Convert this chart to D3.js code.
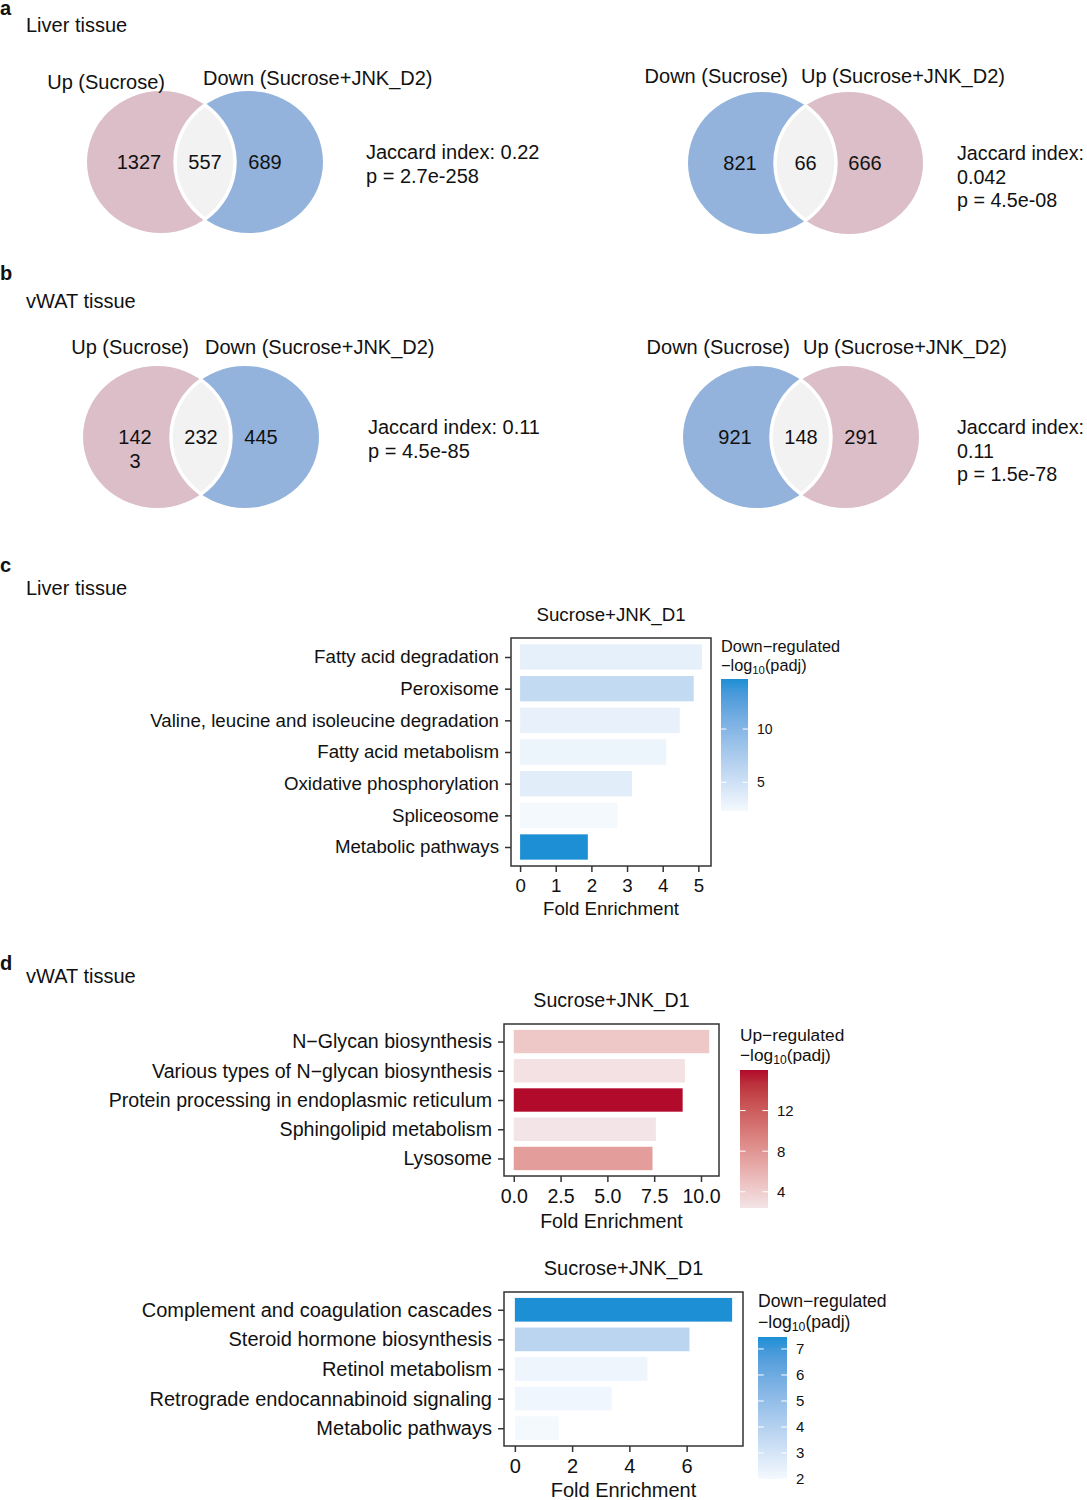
<!DOCTYPE html>
<html>
<head>
<meta charset="utf-8">
<script src="https://cdn.jsdelivr.net/npm/d3@7"></script>
<style>
  body { margin: 0; background: #fff; }
  svg { font-family: "Liberation Sans", Arial, Helvetica, sans-serif; }
</style>
</head>
<body>
<svg id="canvas" width="1087" height="1500"></svg>
<script>
// ---- Venn data (panels a, b) ----
const vennSetNames = [
    ["Up (Sucrose)", "Down (Sucrose+JNK_D2)"],
    ["Down (Sucrose)", "Up (Sucrose+JNK_D2)"],
    ["Up (Sucrose)", "Down (Sucrose+JNK_D2)"],
    ["Down (Sucrose)", "Up (Sucrose+JNK_D2)"]
];
const vennDirections = [["up", "down"], ["down", "up"], ["up", "down"], ["down", "up"]];
const vennCounts = [[1327, 557, 689], [821, 66, 666], [1423, 232, 445], [921, 148, 291]];
const vennJaccard = ["0.22", "0.042", "0.11", "0.11"];
const vennPvalues = ["2.7e-258", "4.5e-08", "4.5e-85", "1.5e-78"];

// ---- Enrichment data (panels c, d) ----
const liverCategories = ["Fatty acid degradation", "Peroxisome", "Valine, leucine and isoleucine degradation",
    "Fatty acid metabolism", "Oxidative phosphorylation", "Spliceosome", "Metabolic pathways"];
const liverFold = [5.10, 4.87, 4.48, 4.10, 3.14, 2.73, 1.90];
const liverPadj = [3.3, 5.8, 3.2, 2.9, 3.6, 2.3, 14.7];
const liverFoldTicks = [0, 1, 2, 3, 4, 5];
const liverLegendTicks = [5, 10];

const vwatUpCategories = ["N\u2212Glycan biosynthesis", "Various types of N\u2212glycan biosynthesis",
    "Protein processing in endoplasmic reticulum", "Sphingolipid metabolism", "Lysosome"];
const vwatUpFold = [10.44, 9.14, 9.02, 7.59, 7.41];
const vwatUpPadj = [4.5, 2.6, 16.0, 2.4, 7.5];
const vwatUpFoldTicks = [0, 2.5, 5, 7.5, 10];
const vwatUpLegendTicks = [4, 8, 12];

const vwatDownCategories = ["Complement and coagulation cascades", "Steroid hormone biosynthesis",
    "Retinol metabolism", "Retrograde endocannabinoid signaling", "Metabolic pathways"];
const vwatDownFold = [7.59, 6.10, 4.63, 3.38, 1.53];
const vwatDownPadj = [7.46, 3.8, 2.18, 2.15, 2.0];
const vwatDownFoldTicks = [0, 2, 4, 6];
const vwatDownLegendTicks = [2, 3, 4, 5, 6, 7];

const svg = d3.select("#canvas");
const ink = "#111";
const frame = "#333";

const vennFill = { up: "#dbbec8", down: "#93b3dc" };

// panel letters and subtitles
const headers = [
    { letter: "a", ly: 15, title: "Liver tissue", ty: 32 },
    { letter: "b", ly: 280, title: "vWAT tissue", ty: 308 },
    { letter: "c", ly: 572, title: "Liver tissue", ty: 595 },
    { letter: "d", ly: 970, title: "vWAT tissue", ty: 983 }
];
headers.forEach(h => {
    svg.append("text").attr("x", 0).attr("y", h.ly)
        .attr("font-size", 20).attr("font-weight", "bold").attr("fill", ink).text(h.letter);
    svg.append("text").attr("x", 26).attr("y", h.ty)
        .attr("font-size", 20).attr("fill", ink).text(h.title);
});

// ---- Venn diagrams ----
const vennLayout = [
    { cx: [161, 249], cy: 162, labelY: [89, 85], labelX: [165, 203], textX: 366, wrapStats: false, wrapCount: false },
    { cx: [762, 849], cy: 163, labelY: [83, 83], labelX: [788, 801], textX: 957, wrapStats: true, wrapCount: false },
    { cx: [157, 245], cy: 437, labelY: [354, 354], labelX: [189, 205], textX: 368, wrapStats: false, wrapCount: true },
    { cx: [757, 845], cy: 437, labelY: [354, 354], labelX: [790, 803], textX: 957, wrapStats: true, wrapCount: false }
];
const rx = 74, ry = 71;
const vennFont = 20;

vennLayout.forEach((L, i) => {
    const g = svg.append("g");
    const [c1, c2] = L.cx;
    const dirs = vennDirections[i];
    g.append("ellipse").attr("cx", c1).attr("cy", L.cy).attr("rx", rx).attr("ry", ry)
        .attr("fill", vennFill[dirs[0]]);
    g.append("ellipse").attr("cx", c2).attr("cy", L.cy).attr("rx", rx).attr("ry", ry)
        .attr("fill", vennFill[dirs[1]]);

    // lens
    const mx = (c1 + c2) / 2;
    const half = (c2 - c1) / 2;
    const h = ry * Math.sqrt(1 - (half / rx) * (half / rx));
    const lens = `M${mx},${L.cy - h} A${rx},${ry} 0 0 1 ${mx},${L.cy + h} A${rx},${ry} 0 0 1 ${mx},${L.cy - h}Z`;
    g.append("path").attr("d", lens).attr("fill", "#f2f2f2")
        .attr("stroke", "#fff").attr("stroke-width", 3.5);

    // set labels
    g.append("text").attr("x", L.labelX[0]).attr("y", L.labelY[0]).attr("text-anchor", "end")
        .attr("font-size", vennFont).attr("fill", ink).text(vennSetNames[i][0]);
    g.append("text").attr("x", L.labelX[1]).attr("y", L.labelY[1]).attr("text-anchor", "start")
        .attr("font-size", vennFont).attr("fill", ink).text(vennSetNames[i][1]);

    // counts
    const counts = vennCounts[i];
    const xs = [c1 - 22, mx, c2 + 16];
    counts.forEach((n, k) => {
        const s = String(n);
        const t = g.append("text").attr("x", xs[k]).attr("y", L.cy + 7)
            .attr("text-anchor", "middle").attr("font-size", vennFont).attr("fill", ink);
        if (k === 0 && L.wrapCount) {
            // this one wraps inside the crescent in the original
            t.append("tspan").attr("x", xs[k]).text(s.slice(0, 3));
            t.append("tspan").attr("x", xs[k]).attr("dy", 24).text(s.slice(3));
        } else {
            t.text(s);
        }
    });

    // statistics
    const lines = L.wrapStats
        ? ["Jaccard index:", vennJaccard[i], "p = " + vennPvalues[i]]
        : ["Jaccard index: " + vennJaccard[i], "p = " + vennPvalues[i]];
    const y0 = L.cy - 3;
    lines.forEach((s, k) => {
        g.append("text").attr("x", L.textX).attr("y", y0 + k * 23.5)
            .attr("font-size", L.wrapStats ? 19.7 : vennFont).attr("fill", ink).text(s);
    });
});

// ---- Enrichment bar charts ----
function barPanel(cfg) {
    const g = svg.append("g");
    const { box } = cfg;
    const fs = cfg.fontSize;
    const maxFold = d3.max(cfg.fold);
    const pad = maxFold * 0.05;
    const x = d3.scaleLinear().domain([-pad, maxFold + pad]).range([box.x0, box.x1]);
    const y = d3.scalePoint().domain(cfg.categories).range([box.y0, box.y1]).padding(0.6);
    const barH = y.step() * 0.8;
    const extent = d3.extent(cfg.padj);
    const color = d3.scaleLinear().domain(extent).range(cfg.colors).interpolate(d3.interpolateLab);

    g.append("rect").attr("x", box.x0).attr("y", box.y0)
        .attr("width", box.x1 - box.x0).attr("height", box.y1 - box.y0)
        .attr("fill", "#fff");

    g.selectAll("rect.bar")
        .data(cfg.categories)
        .enter()
        .append("rect")
        .attr("class", "bar")
        .attr("x", x(0))
        .attr("y", d => y(d) - barH / 2)
        .attr("width", (d, i) => x(cfg.fold[i]) - x(0))
        .attr("height", barH)
        .attr("fill", (d, i) => color(cfg.padj[i]));

    g.append("rect").attr("x", box.x0).attr("y", box.y0)
        .attr("width", box.x1 - box.x0).attr("height", box.y1 - box.y0)
        .attr("fill", "none").attr("stroke", frame).attr("stroke-width", 1.5);

    // axes
    const yAxis = g.append("g").attr("transform", `translate(${box.x0},0)`)
        .call(d3.axisLeft(y).tickSize(6).tickPadding(6));
    const xAxis = g.append("g").attr("transform", `translate(0,${box.y1})`)
        .call(d3.axisBottom(x).tickValues(cfg.foldTicks).tickFormat(cfg.tickFormat).tickSize(6).tickPadding(7));
    [yAxis, xAxis].forEach(a => {
        a.select(".domain").remove();
        a.selectAll(".tick line").attr("stroke", frame).attr("stroke-width", 1.5);
        a.selectAll(".tick text").attr("fill", ink).attr("font-size", fs)
            .attr("font-family", "Liberation Sans, Arial, sans-serif");
    });

    const cx = (box.x0 + box.x1) / 2;
    g.append("text").attr("x", cx).attr("y", box.y0 - 17).attr("text-anchor", "middle")
        .attr("font-size", fs).attr("fill", ink).text(cfg.title);
    g.append("text").attr("x", cx).attr("y", box.y1 + cfg.xTitleGap).attr("text-anchor", "middle")
        .attr("font-size", fs).attr("fill", ink).text("Fold Enrichment");

    // colourbar legend
    const lg = cfg.legend;
    const gid = "grad" + cfg.id;
    const grad = svg.append("defs").append("linearGradient").attr("id", gid)
        .attr("x1", 0).attr("y1", 1).attr("x2", 0).attr("y2", 0);
    d3.range(0, 1.0001, 0.1).forEach(t => {
        grad.append("stop").attr("offset", t)
            .attr("stop-color", color(extent[0] + t * (extent[1] - extent[0])));
    });
    g.append("text").attr("x", lg.x).attr("y", lg.titleY).attr("font-size", lg.font)
        .attr("fill", ink).text(cfg.direction + "\u2212regulated");
    const t2 = g.append("text").attr("x", lg.x).attr("y", lg.titleY + lg.font * 1.18)
        .attr("font-size", lg.font).attr("fill", ink);
    t2.append("tspan").text("\u2212log");
    t2.append("tspan").attr("font-size", lg.font * 0.7).attr("dy", 3).text("10");
    t2.append("tspan").attr("dy", -3).text("(padj)");

    g.append("rect").attr("x", lg.x).attr("y", lg.y0).attr("width", lg.w).attr("height", lg.y1 - lg.y0)
        .attr("fill", `url(#${gid})`);
    const ly = d3.scaleLinear().domain(extent).range([lg.y1, lg.y0]);
    const tl = lg.w / 5;
    g.selectAll("g.ltick")
        .data(cfg.legendTicks)
        .enter()
        .append("g")
        .attr("class", "ltick")
        .attr("transform", d => `translate(0,${ly(d)})`)
        .each(function (d) {
            const s = d3.select(this);
            s.append("line").attr("x1", lg.x).attr("x2", lg.x + tl).attr("stroke", "#fff").attr("stroke-width", 1);
            s.append("line").attr("x1", lg.x + lg.w - tl).attr("x2", lg.x + lg.w).attr("stroke", "#fff").attr("stroke-width", 1);
            s.append("text").attr("x", lg.x + lg.w + 9).attr("y", lg.tickFont * 0.36).attr("font-size", lg.tickFont)
                .attr("fill", ink).text(d);
        });
}

barPanel({
    id: "c", title: "Sucrose+JNK_D1", direction: "Down",
    categories: liverCategories, fold: liverFold, padj: liverPadj,
    foldTicks: liverFoldTicks, tickFormat: d3.format("d"), legendTicks: liverLegendTicks,
    colors: ["#f4f9fe", "#1d8fd5"], fontSize: 18.7, xTitleGap: 49,
    box: { x0: 511, x1: 711, y0: 638, y1: 866 },
    legend: { x: 721, w: 27, y0: 679, y1: 811, titleY: 652, font: 16.3, tickFont: 14 }
});

barPanel({
    id: "d1", title: "Sucrose+JNK_D1", direction: "Up",
    categories: vwatUpCategories, fold: vwatUpFold, padj: vwatUpPadj,
    foldTicks: vwatUpFoldTicks, tickFormat: d3.format(".1f"), legendTicks: vwatUpLegendTicks,
    colors: ["#f3e4e7", "#b10a2b"], fontSize: 19.6, xTitleGap: 52,
    box: { x0: 504, x1: 719, y0: 1024, y1: 1176 },
    legend: { x: 740, w: 28, y0: 1070, y1: 1208, titleY: 1041, font: 17.3, tickFont: 15 }
});

barPanel({
    id: "d2", title: "Sucrose+JNK_D1", direction: "Down",
    categories: vwatDownCategories, fold: vwatDownFold, padj: vwatDownPadj,
    foldTicks: vwatDownFoldTicks, tickFormat: d3.format("d"), legendTicks: vwatDownLegendTicks,
    colors: ["#f4f9fe", "#1d8fd5"], fontSize: 20, xTitleGap: 51,
    box: { x0: 504, x1: 743, y0: 1292, y1: 1446 },
    legend: { x: 758, w: 29, y0: 1337, y1: 1479, titleY: 1307, font: 17.6, tickFont: 15 }
});
</script>
</body>
</html>
